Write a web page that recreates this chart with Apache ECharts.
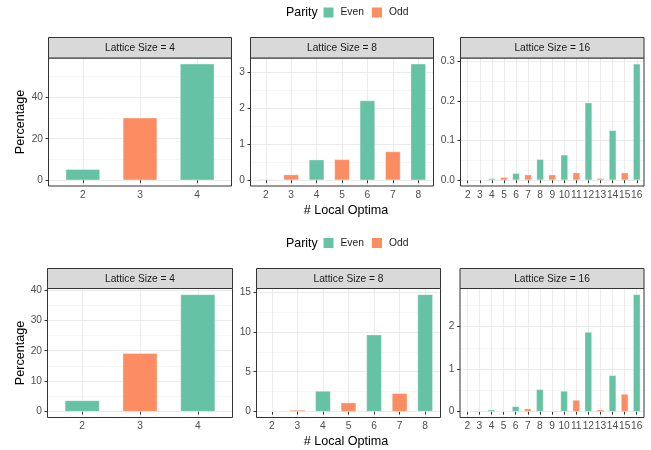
<!DOCTYPE html>
<html><head><meta charset="utf-8">
<script src="https://cdn.jsdelivr.net/npm/echarts@6/dist/echarts.min.js"></script>
<style>html,body{margin:0;padding:0;background:#fff}#c{width:651px;height:450px}</style>
</head><body><div id="c"></div>
<script>
// ---------- data ----------
const latticeSizes = [4, 8, 16];
const parities = ['Even', 'Odd'];
const optima4 = [2, 3, 4];
const optima8 = [2, 3, 4, 5, 6, 7, 8];
const optima16 = [2, 3, 4, 5, 6, 7, 8, 9, 10, 11, 12, 13, 14, 15, 16];

// top chart percentages
const topPct4 = [5.3, 30.1, 56.1];
const topPct8 = [0.025, 0.157, 0.57, 0.58, 2.22, 0.80, 3.24];
const topPct16 = [0, 0.0015, 0.0045, 0.0075, 0.0176, 0.014, 0.053, 0.014, 0.064, 0.019, 0.196, 0.005, 0.126, 0.019, 0.294];
// bottom chart percentages
const botPct4 = [3.7, 19.2, 38.5];
const botPct8 = [0.03, 0.21, 2.59, 1.13, 9.65, 2.3, 14.7];
const botPct16 = [0, 0.02, 0.047, 0, 0.125, 0.07, 0.525, 0.02, 0.487, 0.275, 1.875, 0.047, 0.855, 0.416, 2.76];

// tick labels
const topTicks4 = [0, 20, 40],           topMinor4 = [10, 30, 50];
const topTicks8 = [0, 1, 2, 3],          topMinor8 = [0.5, 1.5, 2.5];
const topTicks16 = [0, 0.1, 0.2, 0.3],   topMinor16 = [0.05, 0.15, 0.25];
const botTicks4 = [0, 10, 20, 30, 40],   botMinor4 = [5, 15, 25, 35];
const botTicks8 = [0, 5, 10, 15],        botMinor8 = [2.5, 7.5, 12.5];
const botTicks16 = [0, 1, 2],            botMinor16 = [0.5, 1.5, 2.5];

// ---------- layout / style ----------
const FONT = '"Liberation Sans", Arial, Helvetica, sans-serif';
const COLORS = { Even: '#66C2A5', Odd: '#FC8D62' };
const rows = [
  { stripTop: 37.5, top: 58, height: 128, legendTop: 7, parityY: 13, titleY: 210.5, lefts: [48.5, 250.5, 460.5], widths: [183, 183, 183.5] },
  { stripTop: 268.5, top: 288.5, height: 129, legendTop: 237.5, parityY: 243.5, titleY: 442, lefts: [47.5, 256.5, 460], widths: [185, 184, 184] }
];
const panels = [
  { row: 0, col: 0, cats: optima4, vals: topPct4, ticks: topTicks4, minor: topMinor4 },
  { row: 0, col: 1, cats: optima8, vals: topPct8, ticks: topTicks8, minor: topMinor8 },
  { row: 0, col: 2, cats: optima16, vals: topPct16, ticks: topTicks16, minor: topMinor16 },
  { row: 1, col: 0, cats: optima4, vals: botPct4, ticks: botTicks4, minor: botMinor4 },
  { row: 1, col: 1, cats: optima8, vals: botPct8, ticks: botTicks8, minor: botMinor8 },
  { row: 1, col: 2, cats: optima16, vals: botPct16, ticks: botTicks16, minor: botMinor16 }
];

const grids = [], xAxes = [], yAxes = [], series = [], graphics = [];
panels.forEach((p, i) => {
  const r = rows[p.row];
  const left = r.lefts[p.col], width = r.widths[p.col];
  grids.push({ left: left, top: r.top, width: width, height: r.height, show: false, containLabel: false, outerBoundsMode: 'none' });
  const dmax = Math.max(...p.vals);
  const ymin = -0.05 * dmax, ymax = 1.05 * dmax;
  const dec = Math.max(...p.ticks.map(t => (String(t).split('.')[1] || '').length));
  xAxes.push({
    type: 'value', gridIndex: i,
    min: p.cats[0] - 0.6, max: p.cats[p.cats.length - 1] + 0.6,
    axisLine: { show: false },
    axisTick: { show: true, customValues: p.cats, length: 3, lineStyle: { color: '#333333', width: 1 } },
    axisLabel: { customValues: p.cats, color: '#4D4D4D', fontSize: 10.2, fontFamily: FONT, margin: 4, hideOverlap: false },
    splitLine: { show: true, lineStyle: { color: '#EBEBEB', width: 1.1 } }
  });
  yAxes.push({
    type: 'value', gridIndex: i, position: 'left', min: ymin, max: ymax,
    axisLine: { show: false },
    axisTick: { show: true, customValues: p.ticks, length: 3, lineStyle: { color: '#333333', width: 1 } },
    axisLabel: { customValues: p.ticks, color: '#4D4D4D', fontSize: 10.2, fontFamily: FONT, margin: 5.5,
      formatter: v => Number(v).toFixed(dec) },
    splitLine: { show: true, lineStyle: { color: '#EBEBEB', width: 1.1 } }
  });
  yAxes.push({
    type: 'value', gridIndex: i, position: 'left', min: ymin, max: ymax,
    axisLine: { show: false },
    axisTick: { show: false, customValues: p.minor },
    axisLabel: { show: false, customValues: p.minor },
    splitLine: { show: true, lineStyle: { color: '#F0F0F0', width: 0.6 } }
  });
  parities.forEach((par) => {
    series.push({
      type: 'bar', name: par, xAxisIndex: i, yAxisIndex: 2 * i,
      data: p.cats.map((c, j) => [c, (c % 2 === 0) === (par === 'Even') ? p.vals[j] : null]),
      barWidth: '60%', barGap: '-100%',
      itemStyle: { color: COLORS[par], borderColor: 'rgba(255,255,255,0.55)', borderWidth: 0.6 },
      emphasis: { disabled: true }
    });
  });
  // panel border
  graphics.push({ type: 'rect', z: 100, silent: true,
    shape: { x: left, y: r.top, width: width, height: r.height },
    style: { fill: 'none', stroke: '#333333', lineWidth: 1 } });
  // strip
  graphics.push({ type: 'rect', z: 100, silent: true,
    shape: { x: left, y: r.stripTop, width: width, height: r.top - r.stripTop },
    style: { fill: '#D9D9D9', stroke: '#333333', lineWidth: 1 } });
  graphics.push({ type: 'text', z: 101, silent: true,
    x: left + width / 2, y: (r.stripTop + r.top) / 2 + 0.5,
    style: { text: 'Lattice Size = ' + latticeSizes[p.col], fill: '#1A1A1A', fontSize: 10.2, fontFamily: FONT,
      align: 'center', verticalAlign: 'middle', textAlign: 'center', textVerticalAlign: 'middle' } });
});

const legends = [];
rows.forEach((r) => {
  legends.push({
    data: parities, left: 323.5, top: r.legendTop, orient: 'horizontal', padding: 0,
    icon: 'rect', itemWidth: 10, itemHeight: 10, itemGap: 8, selectedMode: false,
    itemStyle: { borderWidth: 0 },
    textStyle: { fontSize: 10.3, lineHeight: 10, color: '#1A1A1A', fontFamily: FONT, padding: [1, 0, 0, 2] }
  });
  graphics.push({ type: 'text', silent: true, x: 286, y: r.parityY,
    style: { text: 'Parity', fill: '#000000', fontSize: 12.4, fontFamily: FONT,
      align: 'left', verticalAlign: 'middle', textAlign: 'left', textVerticalAlign: 'middle' } });
  graphics.push({ type: 'text', silent: true, x: 346, y: r.titleY,
    style: { text: '# Local Optima', fill: '#000000', fontSize: 12.6, fontFamily: FONT,
      align: 'center', verticalAlign: 'middle', textAlign: 'center', textVerticalAlign: 'middle' } });
  graphics.push({ type: 'text', silent: true, x: 21, y: r.top + r.height / 2, rotation: Math.PI / 2,
    style: { text: 'Percentage', fill: '#000000', fontSize: 12.6, fontFamily: FONT,
      align: 'center', verticalAlign: 'middle', textAlign: 'center', textVerticalAlign: 'middle' } });
});

const chart = echarts.init(document.getElementById('c'), null, { renderer: 'canvas' });
chart.setOption({
  animation: false,
  backgroundColor: '#ffffff',
  textStyle: { fontFamily: FONT },
  grid: grids, xAxis: xAxes, yAxis: yAxes, series: series,
  legend: legends,
  graphic: graphics
});
</script>
</body></html>
